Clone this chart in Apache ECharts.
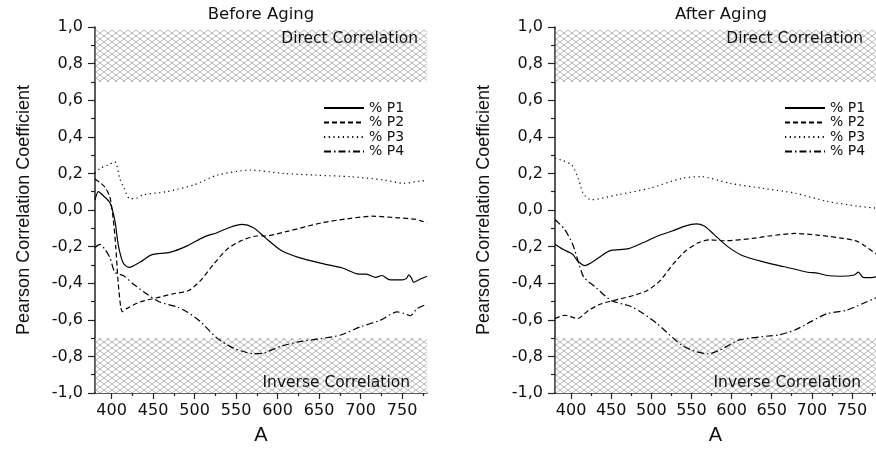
<!DOCTYPE html>
<html>
<head>
<meta charset="utf-8">
<script src="https://cdn.jsdelivr.net/npm/echarts@6/dist/echarts.min.js"></script>
<style>
  html, body { margin: 0; padding: 0; background: #fff; }
  #chart { width: 876px; height: 450px; }
</style>
</head>
<body>
<div id="chart"></div>
<script>
// data: [wavelength, coefficient]
const seriesNames = ['% P1', '% P2', '% P3', '% P4'];
const panelTitles = ['Before Aging', 'After Aging'];
const majorTicksX = [400, 450, 500, 550, 600, 650, 700, 750];
const minorTicksX = [425, 475, 525, 575, 625, 675, 725, 775];

const beforeP1 = [[380,0.055],[384,0.10],[390,0.078],[398,0.04],[404,-0.06],[408,-0.19],[414,-0.29],[421,-0.314],[434,-0.286],[448,-0.245],[470,-0.232],[491,-0.196],[511,-0.148],[527,-0.124],[543,-0.094],[557,-0.079],[571,-0.097],[585,-0.151],[605,-0.223],[625,-0.259],[653,-0.292],[678,-0.317],[698,-0.35],[707,-0.35],[718,-0.368],[726,-0.358],[734,-0.38],[750,-0.382],[755,-0.375],[758,-0.355],[761,-0.37],[764,-0.395],[772,-0.377],[780,-0.362]];
const beforeP2 = [[380,0.17],[386,0.15],[392,0.125],[398,0.07],[402,-0.05],[405,-0.2],[408,-0.4],[411,-0.53],[413,-0.556],[418,-0.539],[434,-0.503],[454,-0.48],[474,-0.458],[493,-0.44],[507,-0.386],[523,-0.296],[539,-0.215],[555,-0.17],[575,-0.142],[585,-0.142],[613,-0.115],[653,-0.07],[686,-0.047],[714,-0.034],[746,-0.043],[765,-0.05],[772,-0.058],[780,-0.07]];
const beforeP3 = [[380,0.2],[386,0.227],[395,0.245],[404,0.263],[410,0.17],[415,0.12],[422,0.061],[430,0.065],[438,0.083],[466,0.10],[499,0.137],[527,0.19],[567,0.218],[607,0.2],[647,0.19],[688,0.182],[728,0.164],[752,0.146],[772,0.158],[780,0.16]];
const beforeP4 = [[380,-0.205],[386,-0.188],[392,-0.215],[398,-0.26],[404,-0.34],[414,-0.358],[426,-0.404],[442,-0.458],[458,-0.503],[479,-0.53],[491,-0.557],[507,-0.61],[527,-0.70],[547,-0.755],[571,-0.785],[583,-0.782],[603,-0.746],[627,-0.719],[651,-0.704],[676,-0.683],[700,-0.638],[724,-0.602],[744,-0.557],[752,-0.565],[760,-0.578],[768,-0.539],[780,-0.515]];

const afterP1 = [[380,-0.187],[390,-0.215],[402,-0.242],[408,-0.277],[417,-0.304],[426,-0.286],[438,-0.25],[448,-0.223],[472,-0.211],[490,-0.178],[508,-0.142],[526,-0.115],[542,-0.088],[556,-0.076],[566,-0.088],[578,-0.133],[594,-0.196],[614,-0.25],[642,-0.286],[666,-0.31],[695,-0.34],[707,-0.345],[719,-0.358],[735,-0.362],[753,-0.355],[758,-0.34],[764,-0.368],[770,-0.37],[780,-0.365]];
const afterP2 = [[380,-0.593],[392,-0.575],[408,-0.593],[422,-0.548],[438,-0.512],[462,-0.485],[478,-0.467],[495,-0.44],[511,-0.386],[527,-0.296],[543,-0.223],[559,-0.178],[573,-0.163],[591,-0.168],[627,-0.155],[647,-0.142],[679,-0.128],[707,-0.137],[739,-0.155],[756,-0.17],[766,-0.196],[780,-0.24]];
const afterP3 = [[380,0.283],[390,0.27],[401,0.245],[409,0.173],[415,0.092],[425,0.056],[458,0.083],[498,0.119],[538,0.173],[562,0.182],[598,0.146],[638,0.119],[679,0.092],[719,0.047],[759,0.02],[780,0.01]];
const afterP4 = [[380,-0.052],[392,-0.106],[402,-0.187],[410,-0.296],[416,-0.368],[430,-0.42],[450,-0.494],[474,-0.526],[490,-0.566],[507,-0.62],[523,-0.683],[539,-0.742],[555,-0.773],[571,-0.786],[586,-0.764],[610,-0.71],[647,-0.688],[659,-0.683],[679,-0.656],[699,-0.61],[719,-0.566],[743,-0.548],[763,-0.512],[780,-0.48]];

const panels = [
  [beforeP1, beforeP2, beforeP3, beforeP4],
  [afterP1, afterP2, afterP3, afterP4]
];
const dashTypes = ['solid', [5, 3], [1.2, 3.5], [7, 3, 1.5, 3]];

// cross hatch tile for the correlation bands
function hatch() {
  const c = document.createElement('canvas');
  c.width = 8; c.height = 6;
  const ctx = c.getContext('2d');
  ctx.fillStyle = '#fff';
  ctx.fillRect(0, 0, 8, 6);
  ctx.strokeStyle = '#b8b8b8';
  ctx.lineWidth = 1;
  ctx.beginPath();
  ctx.moveTo(0, 0); ctx.lineTo(8, 6);
  ctx.moveTo(0, 6); ctx.lineTo(8, 0);
  ctx.stroke();
  return c;
}
const hatchFill = { image: hatch(), repeat: 'repeat' };

const chart = echarts.init(document.getElementById('chart'));
const grids = [
  { left: 95, top: 27, width: 332, height: 370 },
  { left: 555, top: 27, width: 332, height: 370 }
];
const axisColor = '#222';
const tickFont = { fontFamily: 'DejaVu Sans', fontSize: 16, color: '#111' };

let xAxes = [], yAxes = [], series = [];
grids.forEach((g, p) => {
  xAxes.push({
    type: 'value', gridIndex: p, min: 380, max: 780,
    name: 'A', nameLocation: 'middle', nameGap: 32,
    nameTextStyle: { fontFamily: 'Liberation Sans', fontSize: 20, color: '#111' },
    axisLine: { onZero: false, lineStyle: { color: axisColor, width: 1.5 } },
    axisTick: { customValues: majorTicksX, length: 6, lineStyle: { color: axisColor, width: 1.2 } },
    axisLabel: { customValues: majorTicksX, margin: 10, ...tickFont },
    splitLine: { show: false }
  });
  xAxes.push({
    type: 'value', gridIndex: p, min: 380, max: 780, position: 'bottom',
    axisLine: { show: false, onZero: false },
    axisTick: { customValues: minorTicksX, length: 3, lineStyle: { color: axisColor, width: 1.2 } },
    axisLabel: { show: false },
    splitLine: { show: false }
  });
  yAxes.push({
    type: 'value', gridIndex: p, min: -1, max: 1, interval: 0.2,
    name: 'Pearson Correlation Coefficient', nameLocation: 'middle', nameGap: 62,
    nameTextStyle: { fontFamily: 'Liberation Sans', fontSize: 18, color: '#111' },
    axisLine: { show: true, onZero: false, lineStyle: { color: axisColor, width: 1.5 } },
    axisTick: { show: true, length: 7, lineStyle: { color: axisColor, width: 1.2 } },
    minorTick: { show: true, splitNumber: 2, length: 4, lineStyle: { color: axisColor, width: 1.2 } },
    axisLabel: { margin: 12, formatter: v => v.toFixed(1).replace('.', ','), ...tickFont },
    splitLine: { show: false }
  });

  panels[p].forEach((data, i) => {
    const s = {
      name: seriesNames[i], type: 'line', data: data,
      xAxisIndex: p * 2, yAxisIndex: p,
      symbol: 'none', smooth: 0.25,
      lineStyle: { color: '#000', width: 1.2, type: dashTypes[i] },
      itemStyle: { color: '#000' },
      z: 3
    };
    if (i === 0) {
      const lbl = { fontFamily: 'DejaVu Sans', fontSize: 15.5, color: '#111' };
      s.markArea = {
        silent: true,
        itemStyle: { color: hatchFill, opacity: 1, borderWidth: 0 },
        data: [
          [{ name: 'Direct Correlation', xAxis: 381, yAxis: 0.985,
             label: { show: true, position: 'insideTopRight', distance: 0,
                      offset: [p ? -13 : -9, 1], ...lbl } },
           { xAxis: 780, yAxis: 0.7 }],
          [{ name: 'Inverse Correlation', xAxis: 381, yAxis: -0.7,
             label: { show: true, position: 'insideBottomRight', distance: 0,
                      offset: [p ? -15 : -17, -2], ...lbl } },
           { xAxis: 780, yAxis: -1 }]
        ]
      };
    }
    series.push(s);
  });
});

chart.setOption({
  animation: false,
  backgroundColor: '#fff',
  grid: grids,
  xAxis: xAxes,
  yAxis: yAxes,
  legend: [323, 784].map(x => ({
    data: seriesNames, orient: 'vertical', left: x, top: 101, padding: 0,
    itemWidth: 40, itemHeight: 10, itemGap: 0.5, selectedMode: false,
    itemStyle: { opacity: 0 },
    textStyle: { fontFamily: 'DejaVu Sans', fontSize: 14, lineHeight: 14, color: '#111' }
  })),
  graphic: panelTitles.map((t, p) => ({
    type: 'text', x: grids[p].left + 166, y: 15,
    style: { text: t, textAlign: 'center', textVerticalAlign: 'middle',
             font: '16.5px "DejaVu Sans"', fill: '#111' }
  })),
  series: series
});
</script>
</body>
</html>
